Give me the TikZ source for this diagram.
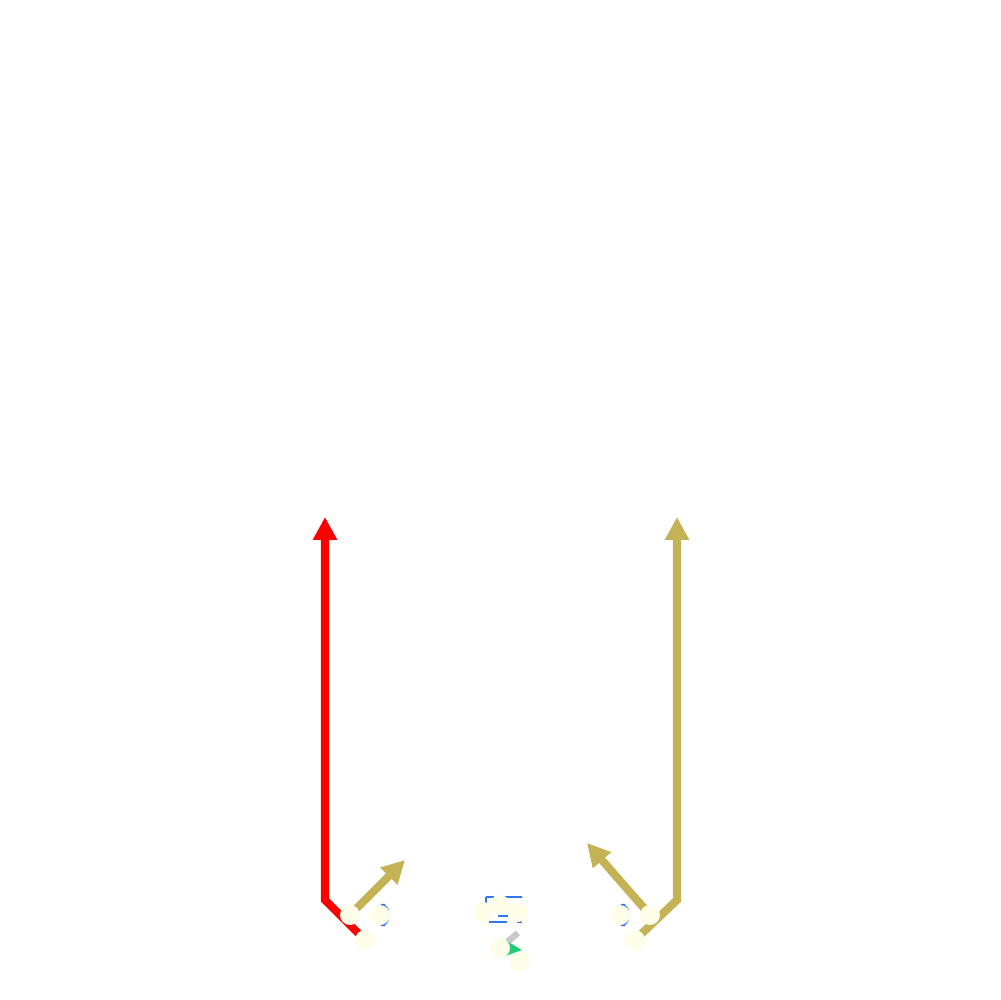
\documentclass[tikz,border=0pt]{standalone}
\usepackage{tikz}
\usetikzlibrary{arrows.meta}
\definecolor{routered}{RGB}{255,0,0}
\definecolor{routegold}{RGB}{196,178,84}
\definecolor{playercream}{RGB}{253,253,232}
\definecolor{zoneblue}{RGB}{51,119,238}
\definecolor{motiongreen}{RGB}{34,204,119}
\definecolor{blockgray}{RGB}{200,200,204}
\begin{document}
\begin{tikzpicture}[
  x=0.1mm, y=-0.1mm,
  player/.style={circle, fill=playercream, draw=none, inner sep=0pt, minimum size=2mm},
  route/.style={line width=2.3pt, line join=miter, -{Triangle[length=6.5pt, width=6.5pt]}},
  zone/.style={draw=zoneblue, line width=0.6pt}
]
  \useasboundingbox (0,0) rectangle (1000,1000);

  % Jugadores
  \coordinate (l1) at (350,915);
  \coordinate (l2) at (380,915);
  \coordinate (l3) at (365,940);
  \coordinate (m1) at (483,912);
  \coordinate (m2) at (500,905);
  \coordinate (m3) at (518,912);
  \coordinate (m4) at (500,948);
  \coordinate (m5) at (520,962);
  \coordinate (r1) at (620,915);
  \coordinate (r2) at (650,915);
  \coordinate (r3) at (635,940);

  % Quiebres y puntas de rutas
  \coordinate (lbreak) at (325,900);
  \coordinate (ltip) at (325,517);
  \coordinate (lflat) at (405,860);
  \coordinate (rbreak) at (677,900);
  \coordinate (rtip) at (677,517);
  \coordinate (rflat) at (587,843);
  \coordinate (gtip) at (522,950);
  \coordinate (gray) at (518,933);

  % Marcas de zona
  \draw[zone, rounded corners=2pt] (378,905) rectangle (388,925);
  \draw[zone, rounded corners=2pt] (618,905) rectangle (628,925);
  \draw[zone, dash pattern=on 5pt off 3pt] (486,897) rectangle (521,922);
  \draw[zone] (498,916) -- (508,916);

  % Rutas
  \draw[route, routered] (l3) -- (lbreak) -- (ltip);
  \draw[route, routegold] (l1) -- (lflat);
  \draw[route, routegold] (r3) -- (rbreak) -- (rtip);
  \draw[route, routegold] (r2) -- (rflat);
  \draw[line width=1.8pt, blockgray] (gray) -- (m4);
  \draw[motiongreen, -{Triangle[length=6pt, width=5.5pt]}] (m4) -- (gtip);

  % Circulos
  \foreach \p in {l1,l2,l3,m1,m2,m3,m4,m5,r1,r2,r3} {
    \node[player] (n\p) at (\p) {};
  }
\end{tikzpicture}
\end{document}
